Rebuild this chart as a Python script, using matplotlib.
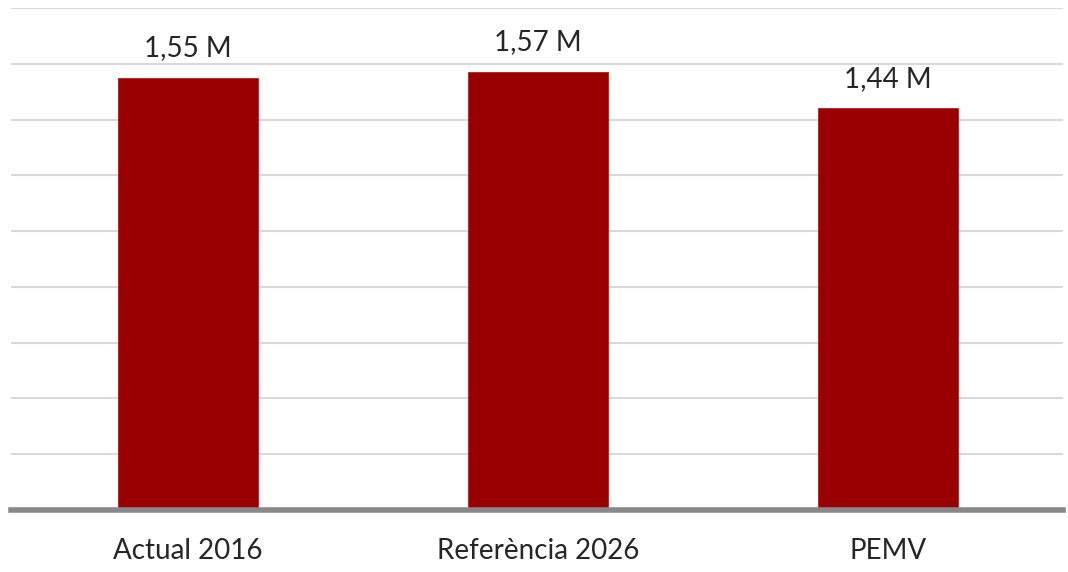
import matplotlib.pyplot as plt

categories = ['Actual 2016', 'Referència 2026', 'PEMV']
values = [1.55, 1.57, 1.44]
value_labels = ['1,55 M', '1,57 M', '1,44 M']

plt.rcParams['font.family'] = ['Lato', 'DejaVu Sans']

fig = plt.figure(figsize=(10.68, 5.72), dpi=100)
ax = fig.add_axes([11 / 1068, 62 / 572, 1052 / 1068, 502 / 572])

x = range(len(categories))
bars = ax.bar(x, values, width=0.4, color='#990000', edgecolor='#b02020', linewidth=0.6, zorder=3)

for bar, lab in zip(bars, value_labels):
    ax.text(bar.get_x() + bar.get_width() / 2, bar.get_height() + 0.06, lab,
            ha='center', va='bottom', fontsize=20, color='#262626')

ax.set_xlim(-0.505, 2.5)
ax.set_ylim(0, 1.8)
ax.set_yticks([i * 0.2 for i in range(10)])
ax.yaxis.grid(True, color='#d9d9d9', linewidth=1.5, zorder=0)
ax.tick_params(axis='y', left=False, labelleft=False)
ax.set_xticks(list(x))
ax.set_xticklabels(categories, fontsize=20, color='#262626')
ax.tick_params(axis='x', length=0, pad=20)

for side in ['left', 'right', 'top']:
    ax.spines[side].set_visible(False)
ax.spines['bottom'].set_color('#888888')
ax.spines['bottom'].set_linewidth(4)
ax.spines['bottom'].set_zorder(4)

fig.savefig('out.png', dpi=100)
